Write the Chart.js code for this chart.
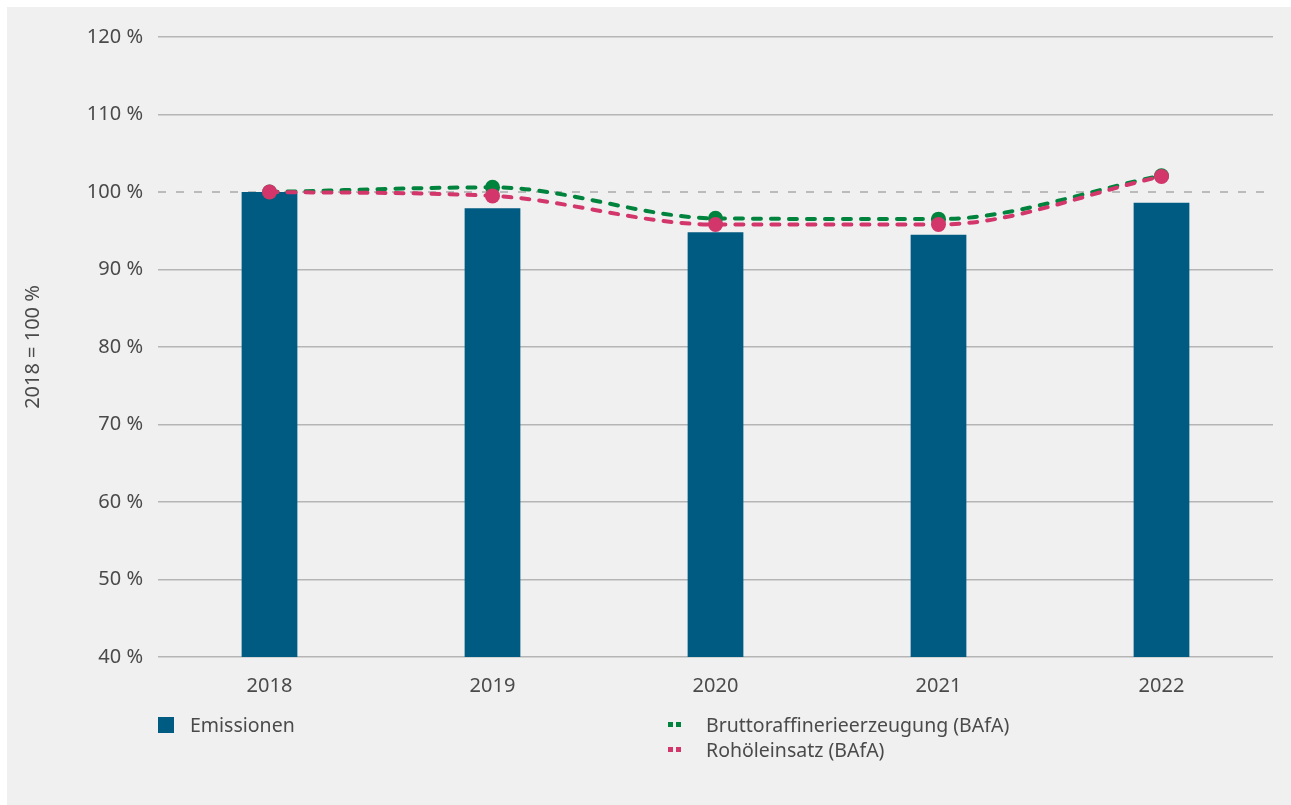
<!DOCTYPE html>
<html lang="de">
<head>
<meta charset="utf-8">
<title>Emissionen und Raffinerieaktivität</title>
<script src="https://cdn.jsdelivr.net/npm/chart.js@4/dist/chart.umd.min.js"></script>
<style>
  html, body { margin: 0; padding: 0; background: #ffffff; }
  body { width: 1291px; height: 805px; overflow: hidden; position: relative; font-family: "Noto Sans", sans-serif; }
  .panel { position: absolute; left: 7px; top: 7px; width: 1284px; height: 798px; background: #f0f0f0; }
  .panel canvas { position: absolute; left: 0; top: 0; }
  .legend-item { position: absolute; display: flex; align-items: center; font-size: 19.5px; color: #4a4a4a; white-space: nowrap; }
  .swatch-box { width: 16px; height: 16px; margin-right: 16px; }
  .swatch-dash { display: flex; gap: 3px; margin-right: 25px; }
  .swatch-dash span { width: 5px; height: 5px; display: block; }
</style>
</head>
<body>
<div class="panel">
  <canvas id="chart" width="1284" height="798"></canvas>
  <div id="legend"></div>
</div>
<script>
// Jahre und Werte (2018 = 100 %)
const years = ['2018', '2019', '2020', '2021', '2022'];
const emissionen = [100, 97.9, 94.8, 94.5, 98.6];
const bruttoraffinerie = [100, 100.6, 96.6, 96.5, 102.1];
const rohoeleinsatz = [100, 99.5, 95.8, 95.8, 102.0];

const yTicks = [40, 50, 60, 70, 80, 90, 100, 110, 120];

const blue = '#005b82';
const green = '#00843d';
const pink = '#d3366b';
const textColor = '#4a4a4a';
const font = { family: '"Noto Sans", sans-serif', size: 20 };

// gestrichelte Linie bei 100 %
const referenceLine = {
  id: 'referenceLine',
  beforeDatasetsDraw(chart) {
    const {ctx, chartArea, scales} = chart;
    const y = scales.y.getPixelForValue(100);
    ctx.save();
    ctx.strokeStyle = '#a9a9a9';
    ctx.lineWidth = 1.5;
    ctx.setLineDash([8, 10]);
    ctx.beginPath();
    ctx.moveTo(chartArea.left, y);
    ctx.lineTo(chartArea.right, y);
    ctx.stroke();
    ctx.restore();
  }
};

const lineStyle = (color) => ({
  borderColor: color,
  backgroundColor: color,
  borderWidth: 4,
  borderDash: [8, 10],
  borderCapStyle: 'round',
  pointRadius: 7.5,
  pointHoverRadius: 7.5,
  pointBorderWidth: 0,
  pointBackgroundColor: color,
  cubicInterpolationMode: 'monotone',
  fill: false
});

const chart = new Chart(document.getElementById('chart'), {
  data: {
    labels: years,
    datasets: [
      {
        type: 'line',
        label: 'Bruttoraffinerieerzeugung (BAfA)',
        data: bruttoraffinerie,
        order: 1,
        ...lineStyle(green)
      },
      {
        type: 'line',
        label: 'Rohöleinsatz (BAfA)',
        data: rohoeleinsatz,
        order: 0,
        ...lineStyle(pink)
      },
      {
        type: 'bar',
        label: 'Emissionen',
        data: emissionen,
        backgroundColor: blue,
        borderWidth: 0,
        barPercentage: 1,
        categoryPercentage: 0.25,
        order: 2
      }
    ]
  },
  options: {
    responsive: false,
    animation: false,
    layout: { padding: { top: 30, right: 18, left: 0, bottom: 0 } },
    plugins: {
      legend: { display: false },
      tooltip: { enabled: false }
    },
    scales: {
      x: {
        grid: { display: false },
        border: { display: false },
        ticks: { color: textColor, font: font, padding: 9 },
        afterFit: (scale) => { scale.height = 148; }
      },
      y: {
        min: 40,
        max: 120,
        afterBuildTicks: (scale) => { scale.ticks = yTicks.map(v => ({value: v})); },
        grid: {
          drawTicks: false,
          lineWidth: 1.5,
          color: (ctx) => ctx.tick && ctx.tick.value === 100 ? 'rgba(0,0,0,0)' : '#b5b5b5'
        },
        border: { display: false },
        ticks: {
          color: textColor,
          font: font,
          padding: 15,
          callback: (v) => v + ' %'
        },
        title: {
          display: true,
          text: '2018 = 100 %',
          color: textColor,
          font: { family: font.family, size: 20 },
          padding: { top: 14, bottom: 0 }
        },
        afterFit: (scale) => { scale.width = 151; }
      }
    }
  },
  plugins: [referenceLine]
});

// Legende aus den Datensätzen
const legend = document.getElementById('legend');
const positions = {
  'Emissionen': { left: 151, top: 704 },
  'Bruttoraffinerieerzeugung (BAfA)': { left: 661, top: 704 },
  'Rohöleinsatz (BAfA)': { left: 661, top: 729 }
};
chart.data.datasets.forEach((ds) => {
  const item = document.createElement('div');
  item.className = 'legend-item';
  const pos = positions[ds.label];
  item.style.left = pos.left + 'px';
  item.style.top = pos.top + 'px';
  let marker;
  if (ds.type === 'bar') {
    marker = document.createElement('div');
    marker.className = 'swatch-box';
    marker.style.background = ds.backgroundColor;
  } else {
    marker = document.createElement('div');
    marker.className = 'swatch-dash';
    for (let i = 0; i < 2; i++) {
      const d = document.createElement('span');
      d.style.background = ds.borderColor;
      marker.appendChild(d);
    }
  }
  item.appendChild(marker);
  const label = document.createElement('span');
  label.textContent = ds.label;
  item.appendChild(label);
  legend.appendChild(item);
});
</script>
</body>
</html>
